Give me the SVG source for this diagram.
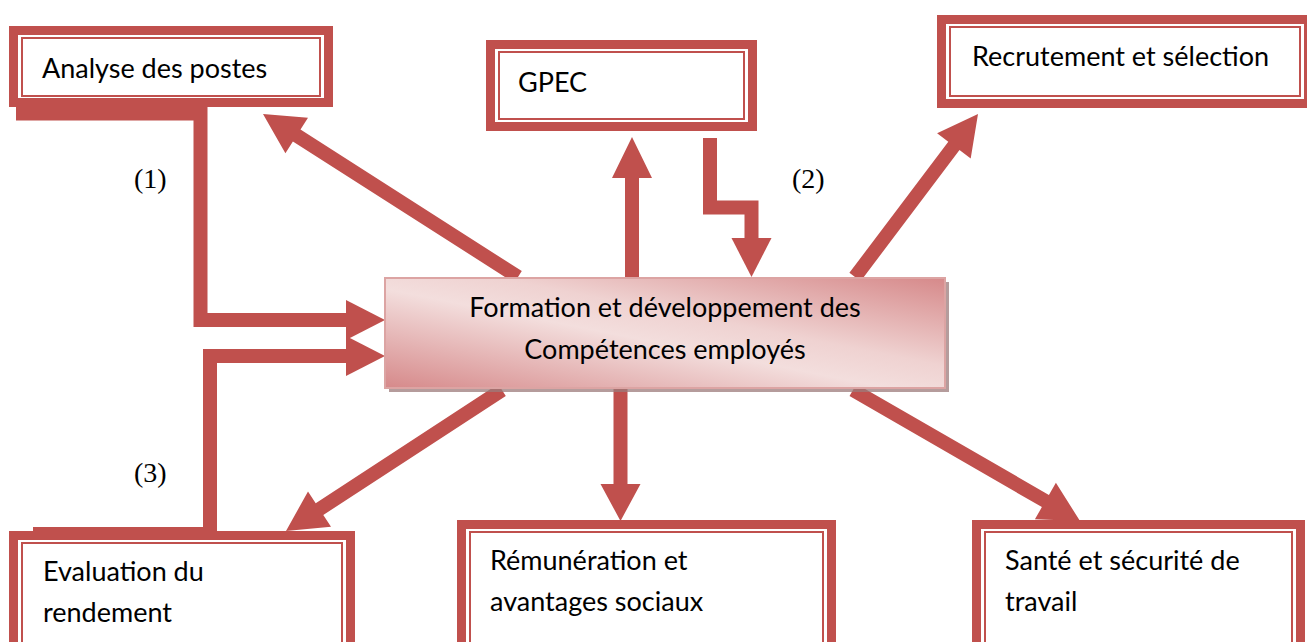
<svg xmlns="http://www.w3.org/2000/svg" width="1307" height="642" viewBox="0 0 1307 642">
  <style>
    .bg { fill: #ffffff; }
    .thick { fill: none; stroke: #c0504d; stroke-width: 9; }
    .thin { fill: none; stroke: #c0504d; stroke-width: 2; }
    .lbl { font-family: Lato, "Open Sans", "Liberation Sans", sans-serif; font-size: 27px; fill: #000000; }
    .num { font-family: "Liberation Serif", "Times New Roman", serif; font-size: 28px; fill: #000000; }
    .arrow { fill: #c0504d; }
    .bar { fill: none; stroke: #c0504d; stroke-width: 14; stroke-linejoin: miter; }
  </style>
  <defs>
    <linearGradient id="centerFill" x1="0" y1="1" x2="1" y2="0">
      <stop offset="0" stop-color="#d6898a"/>
      <stop offset="0.45" stop-color="#f3dedd"/>
      <stop offset="0.6" stop-color="#efd2d1"/>
      <stop offset="1" stop-color="#d6898a"/>
    </linearGradient>
  </defs>

  <rect class="bg" x="0" y="0" width="1307" height="642"/>

  <!-- connectors -->
  <g id="connectors">
    <!-- (1) Analyse des postes -> Formation -->
    <path class="bar" d="M16,113.5 H200.5 V320 H350"/>
    <polygon class="arrow" points="346,300 385,320 346,340"/>
    <!-- (3) Evaluation du rendement -> Formation -->
    <path class="bar" d="M33,534 H210 V356 H350"/>
    <polygon class="arrow" points="346,336 385,356 346,376"/>
    <!-- (2) GPEC -> Formation -->
    <path class="bar" d="M710,138 V207.5 H751.5 V240"/>
    <polygon class="arrow" points="731.5,238 771.5,238 751.5,277"/>
    <!-- Formation -> GPEC -->
    <polygon class="arrow" points="625,282 625,178 612,178 632,137 652,178 639,178 639,282"/>
    <!-- Formation -> Analyse des postes -->
    <polygon class="arrow" points="521.8,271.1 300.5,129.6 308.0,117.8 263,114 285.4,153.2 292.9,141.4 514.2,282.9"/>
    <!-- Formation -> Recrutement et sélection -->
    <polygon class="arrow" points="860.6,281.2 959.5,150.1 970.7,158.6 978,114 937.1,133.3 948.3,141.7 849.4,272.8"/>
    <!-- Formation -> Evaluation du rendement -->
    <polygon class="arrow" points="505.8,395.9 323.3,515.0 331.0,526.7 286,531 308.0,491.5 315.7,503.2 498.2,384.1"/>
    <!-- Formation -> Rémunération -->
    <polygon class="arrow" points="613.5,384 613.5,484 600.5,484 620.5,521 640.5,484 627.5,484 627.5,384"/>
    <!-- Formation -> Santé et sécurité -->
    <polygon class="arrow" points="849.5,396.1 1041.9,507.1 1034.9,519.2 1080,521 1055.9,482.8 1048.9,494.9 856.5,383.9"/>
  </g>

  <!-- connector labels -->
  <text class="num" x="134" y="188">(1)</text>
  <text class="num" x="792" y="188">(2)</text>
  <text class="num" x="134" y="482">(3)</text>

  <!-- outer nodes: thick-thin double frame -->
  <g id="analyse">
    <rect class="bg" x="9" y="26" width="324" height="81"/>
    <rect class="thick" x="13.5" y="30.5" width="315" height="72"/>
    <rect class="thin" x="22" y="38" width="298" height="58"/>
    <text class="lbl" x="42" y="78">Analyse des postes</text>
  </g>

  <g id="gpec">
    <rect class="bg" x="486" y="40" width="271" height="91"/>
    <rect class="thick" x="490.5" y="44.5" width="262" height="82"/>
    <rect class="thin" x="499" y="52" width="245" height="67"/>
    <text class="lbl" x="518" y="92">GPEC</text>
  </g>

  <g id="recrutement">
    <rect class="bg" x="937" y="15" width="376" height="93"/>
    <rect class="thick" x="941.5" y="19.5" width="367" height="84"/>
    <rect class="thin" x="950" y="27" width="350" height="69"/>
    <text class="lbl" x="972" y="66">Recrutement et sélection</text>
  </g>

  <g id="evaluation">
    <rect class="bg" x="9" y="531" width="346" height="130"/>
    <rect class="thick" x="13.5" y="535.5" width="337" height="121"/>
    <rect class="thin" x="22" y="543" width="320" height="106"/>
    <text class="lbl" x="43" y="581">Evaluation du</text>
    <text class="lbl" x="43" y="622">rendement</text>
  </g>

  <g id="remuneration">
    <rect class="bg" x="457" y="520" width="379" height="140"/>
    <rect class="thick" x="461.5" y="524.5" width="370" height="131"/>
    <rect class="thin" x="470" y="532" width="353" height="116"/>
    <text class="lbl" x="490" y="570">Rémunération et</text>
    <text class="lbl" x="490" y="611">avantages sociaux</text>
  </g>

  <g id="sante">
    <rect class="bg" x="972" y="520" width="333" height="140"/>
    <rect class="thick" x="976.5" y="524.5" width="324" height="131"/>
    <rect class="thin" x="985" y="532" width="307" height="116"/>
    <text class="lbl" x="1005" y="570">Santé et sécurité de</text>
    <text class="lbl" x="1005" y="611">travail</text>
  </g>

  <!-- central node -->
  <g id="formation">
    <rect x="389" y="282" width="560" height="110" fill="#9c7b7b" opacity="0.75"/>
    <rect x="385" y="278" width="560" height="110" fill="url(#centerFill)" stroke="#dca4a3" stroke-width="2"/>
    <text class="lbl" x="665" y="317" text-anchor="middle">Formation et développement des</text>
    <text class="lbl" x="665" y="359" text-anchor="middle">Compétences employés</text>
  </g>
</svg>
